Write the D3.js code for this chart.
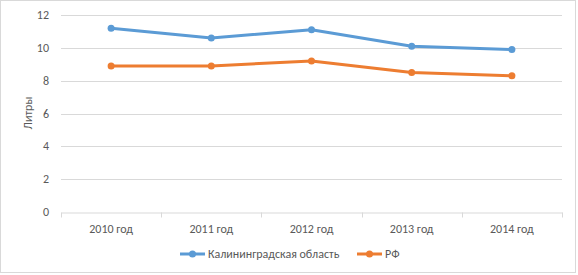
<!DOCTYPE html>
<html>
<head>
<meta charset="utf-8">
<script src="https://cdn.jsdelivr.net/npm/d3@7"></script>
<style>
  body { margin: 0; background: #fff; }
  svg { display: block; font-family: Carlito, "Liberation Sans Narrow", "Liberation Sans", sans-serif; }
</style>
</head>
<body>
<div id="chart"></div>
<script>
const years = ["2010 год", "2011 год", "2012 год", "2013 год", "2014 год"];
const kaliningrad = [11.2, 10.6, 11.1, 10.1, 9.9];
const russia = [8.9, 8.9, 9.2, 8.5, 8.3];
const yTicks = [0, 2, 4, 6, 8, 10, 12];
const seriesNames = ["Калининградская область", "РФ"];
const colors = ["#5B9BD5", "#ED7D31"];

const width = 578, height = 275;
const plotLeft = 61, plotRight = 562, plotTop = 15, plotBottom = 212;

let svg = d3.select("#chart").append("svg")
    .attr("width", width)
    .attr("height", height);

// chart border
svg.append("rect")
    .attr("x", 0.5).attr("y", 0.5)
    .attr("width", 575).attr("height", 272)
    .attr("fill", "#fff")
    .attr("stroke", "#d9d9d9");

let xScale = d3.scaleBand().domain(years).range([plotLeft, plotRight]);
let yScale = d3.scaleLinear().domain([0, 12]).range([plotBottom, plotTop]);

// gridlines
svg.append("g").selectAll("line")
    .data(yTicks.filter(d => d > 0))
    .enter().append("line")
    .attr("x1", plotLeft).attr("x2", plotRight)
    .attr("y1", d => Math.round(yScale(d)) + 0.5)
    .attr("y2", d => Math.round(yScale(d)) + 0.5)
    .attr("stroke", "#d9d9d9");

// y axis labels
svg.append("g").selectAll("text")
    .data(yTicks)
    .enter().append("text")
    .attr("x", 49)
    .attr("y", d => yScale(d) + 4)
    .attr("text-anchor", "end")
    .attr("font-size", 12)
    .attr("fill", "#595959")
    .text(d => d);

// x axis
let xAxis = d3.axisBottom(xScale).tickSize(0).tickSizeOuter(0);
let gx = svg.append("g")
    .attr("transform", `translate(0, ${Math.round(plotBottom) + 0.5})`)
    .call(xAxis);
gx.select(".domain").attr("stroke", "#d9d9d9");
gx.selectAll("text")
    .attr("dy", 0)
    .attr("y", 20)
    .attr("font-size", 12)
    .attr("fill", "#595959");
gx.attr("font-family", null);
gx.selectAll(".tick-sep")
    .data(d3.range(years.length + 1))
    .enter().append("line")
    .attr("x1", i => Math.round(plotLeft + i * xScale.step()) + 0.5)
    .attr("x2", i => Math.round(plotLeft + i * xScale.step()) + 0.5)
    .attr("y1", 0).attr("y2", 5)
    .attr("stroke", "#d9d9d9");

// y title
svg.append("text")
    .attr("transform", "translate(32, 113) rotate(-90)")
    .attr("text-anchor", "middle")
    .attr("font-size", 12)
    .attr("fill", "#595959")
    .text("Литры");

// lines
const cx = d => xScale(d) + xScale.bandwidth() / 2;
const line = d3.line().x(d => cx(d[0])).y(d => yScale(d[1]));
[kaliningrad, russia].forEach((vals, i) => {
    let pts = years.map((y, j) => [y, vals[j]]);
    svg.append("path")
        .attr("d", line(pts))
        .attr("fill", "none")
        .attr("stroke", colors[i])
        .attr("stroke-width", 3)
        .attr("stroke-linejoin", "round")
        .attr("stroke-linecap", "round");
    svg.append("g").selectAll("circle")
        .data(pts)
        .enter().append("circle")
        .attr("cx", d => cx(d[0]))
        .attr("cy", d => yScale(d[1]))
        .attr("r", 3.5)
        .attr("fill", colors[i]);
});

// legend
const legendX = [180, 357];
seriesNames.forEach((name, i) => {
    let g = svg.append("g").attr("transform", `translate(${legendX[i]}, 254)`);
    g.append("line").attr("x1", 0).attr("x2", 25).attr("y1", 0).attr("y2", 0)
        .attr("stroke", colors[i]).attr("stroke-width", 3);
    g.append("circle").attr("cx", 12.5).attr("cy", 0).attr("r", 3.5).attr("fill", colors[i]);
    g.append("text").attr("x", 28).attr("y", 4)
        .attr("font-size", 12).attr("fill", "#595959").text(name);
});
</script>
</body>
</html>
